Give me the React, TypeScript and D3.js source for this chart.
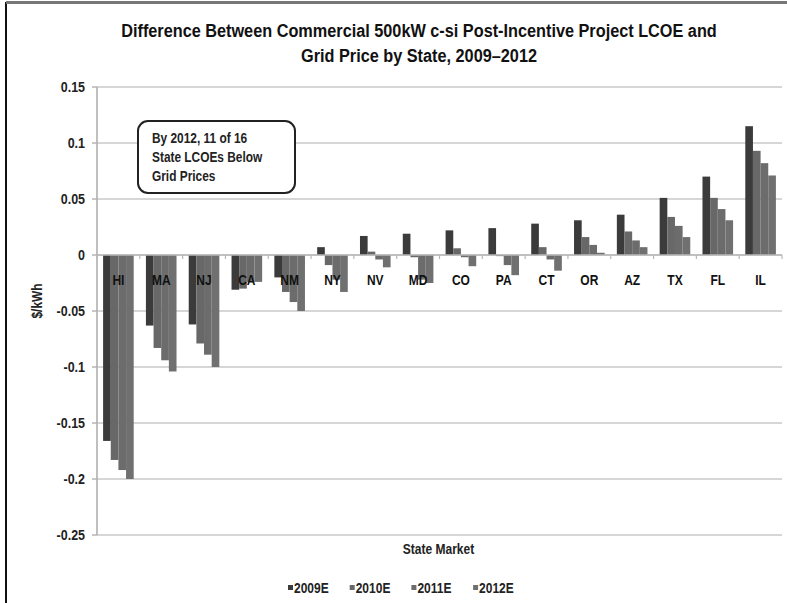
import React from "react";
import * as d3 from "d3";

const states = ["HI", "MA", "NJ", "CA", "NM", "NY", "NV", "MD", "CO", "PA", "CT", "OR", "AZ", "TX", "FL", "IL"];
const seriesNames = ["2009E", "2010E", "2011E", "2012E"];
const v2009 = [-0.166, -0.063, -0.062, -0.031, -0.020, 0.007, 0.017, 0.019, 0.022, 0.024, 0.028, 0.031, 0.036, 0.051, 0.070, 0.115];
const v2010 = [-0.183, -0.083, -0.079, -0.030, -0.033, -0.009, 0.003, -0.002, 0.006, -0.001, 0.007, 0.016, 0.021, 0.034, 0.051, 0.093];
const v2011 = [-0.192, -0.094, -0.089, -0.024, -0.042, -0.022, -0.004, -0.022, -0.002, -0.009, -0.004, 0.009, 0.013, 0.026, 0.041, 0.082];
const v2012 = [-0.200, -0.104, -0.100, -0.024, -0.050, -0.033, -0.011, -0.025, -0.010, -0.018, -0.014, 0.002, 0.007, 0.016, 0.031, 0.071];
const yTicks = [0.15, 0.1, 0.05, 0, -0.05, -0.1, -0.15, -0.2, -0.25];
const colors = ["#3b3b3b", "#686868", "#6c6c6c", "#707070"];
const titleLines = ["Difference Between Commercial 500kW c-si Post-Incentive Project LCOE and", "Grid Price by State, 2009\u20132012"];
const noteLines = ["By 2012, 11 of 16", "State LCOEs Below", "Grid Prices"];

const FONT = "'Liberation Sans', Arial, sans-serif";

function NText({ x, y, anchor = "start", size = 13, sx = 0.82, children, fill = "#1a1a1a", rotate = 0 }: any) {
  return (
    <text
      transform={`translate(${x},${y}) rotate(${rotate}) scale(${sx},1)`}
      textAnchor={anchor}
      dy="0.35em"
      fontSize={size}
      fontWeight="bold"
      fill={fill}
    >
      {children}
    </text>
  );
}

export default function App() {
  const W = 787, H = 603;
  const left = 97, right = 782, top = 87, bottom = 535;
  const series = [v2009, v2010, v2011, v2012];
  const x = d3.scaleBand<string>().domain(states).range([left, right]).paddingInner(0.285).paddingOuter(0.1425);
  const xs = d3.scaleBand<string>().domain(seriesNames).range([0, x.bandwidth()]).padding(0);
  const y = d3.scaleLinear().domain([-0.25, 0.15]).range([bottom, top]);
  const step = x.step();
  const boundaries = d3.range(states.length + 1).map((i) => left + i * step);

  return (
    <svg width={W} height={H} style={{ position: "absolute", left: 0, top: 0, background: "#fff" }} fontFamily={FONT}>
      <rect x={0} y={0} width={W} height={H} fill="#fff" />
      {/* frame */}
      <line x1={6} x2={6} y1={2} y2={H} stroke="#111" strokeWidth={2} />
      <line x1={6} x2={W} y1={2.5} y2={2.5} stroke="#777" strokeWidth={3} />
      {/* title */}
      {titleLines.map((t, i) => (
        <NText key={i} x={419} y={31 + i * 25} anchor="middle" size={18.5} sx={0.88} fill="#111">{t}</NText>
      ))}
      {/* gridlines */}
      {yTicks.map((t) => (
        <g key={t}>
          <line x1={left} x2={right} y1={y(t)} y2={y(t)} stroke="#c8c8c8" strokeWidth={1.6} />
          <line x1={left - 5} x2={left} y1={y(t)} y2={y(t)} stroke="#b0b0b0" strokeWidth={1.4} />
          <NText x={85} y={y(t)} anchor="end" size={14.5} sx={0.86} fill="#222">{String(t)}</NText>
        </g>
      ))}
      <line x1={left} x2={left} y1={top} y2={bottom} stroke="#b0b0b0" strokeWidth={1.6} />
      {/* bars */}
      {states.map((s, i) => (
        <g key={s} transform={`translate(${x(s)},0)`}>
          {series.map((vals, j) => {
            const v = vals[i];
            const y0 = y(Math.max(0, v));
            const h = Math.abs(y(v) - y(0));
            return <rect key={j} x={xs(seriesNames[j])} y={y0} width={xs.bandwidth()} height={h} fill={colors[j]} />;
          })}
        </g>
      ))}
      {/* zero axis */}
      <line x1={left} x2={right} y1={y(0)} y2={y(0)} stroke="#b8b8b8" strokeWidth={1.6} />
      {boundaries.map((b, i) => (
        <line key={i} x1={b} x2={b} y1={y(0)} y2={y(0) + 4} stroke="#b8b8b8" strokeWidth={1.2} />
      ))}
      {/* category labels */}
      {states.map((s) => (
        <NText key={s} x={x(s)! + x.bandwidth() / 2} y={y(0) + 25} anchor="middle" size={15} sx={0.8} fill="#111">{s}</NText>
      ))}
      {/* y axis title */}
      <NText x={37} y={y(-0.05) - 10} anchor="middle" size={14} sx={0.85} rotate={-90} fill="#222">$/kWh</NText>
      {/* x axis title */}
      <NText x={(left + right) / 2 - 1} y={549} anchor="middle" size={15} sx={0.8} fill="#222">State Market</NText>
      {/* annotation */}
      <rect x={138} y={121} width={157} height={72} rx={10} ry={10} fill="#fff" stroke="#222" strokeWidth={2} />
      {noteLines.map((t, i) => (
        <NText key={i} x={152} y={138 + i * 19} size={14.5} sx={0.82} fill="#222">{t}</NText>
      ))}
      {/* legend */}
      {seriesNames.map((n, i) => (
        <g key={n}>
          <rect x={288 + i * 61.7} y={585} width={5} height={5} fill={colors[i]} />
          <NText x={294 + i * 61.7} y={588} size={15} sx={0.8} fill="#222">{n}</NText>
        </g>
      ))}
    </svg>
  );
}
